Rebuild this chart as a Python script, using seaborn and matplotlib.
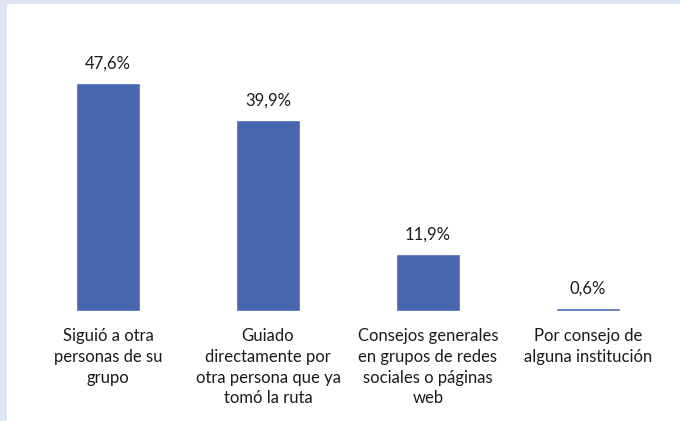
import matplotlib
matplotlib.use('Agg')
import matplotlib.pyplot as plt
import seaborn as sns
import pandas as pd
from matplotlib.patches import Rectangle

categorias = [
    'Siguió a otra\npersonas de su\ngrupo',
    'Guiado\ndirectamente por\notra persona que ya\ntomó la ruta',
    'Consejos generales\nen grupos de redes\nsociales o páginas\nweb',
    'Por consejo de\nalguna institución',
]
porcentajes = [47.6, 39.9, 11.9, 0.6]
etiquetas = ['47,6%', '39,9%', '11,9%', '0,6%']

sns.set_theme(style='white')
plt.rcParams['font.family'] = ['Lato', 'DejaVu Sans']

df = pd.DataFrame({'categoria': categorias, 'valor': porcentajes})

fig = plt.figure(figsize=(6.8, 4.21), dpi=100)
# marco azul claro (arriba e izquierda)
fig.patches.append(Rectangle((0, 1 - 4 / 421), 1, 4 / 421, transform=fig.transFigure,
                             facecolor='#dde5f2', edgecolor='none', zorder=0))
fig.patches.append(Rectangle((0, 0), 7 / 680, 1, transform=fig.transFigure,
                             facecolor='#dde5f2', edgecolor='none', zorder=0))

ax = fig.add_axes([28 / 680, 110 / 421, 640 / 680, 239.5 / 421])
sns.barplot(data=df, x='categoria', y='valor', color='#4667b0', saturation=1,
            width=0.395, ax=ax)
ax.set_xlim(-0.5, 3.5)
ax.set_ylim(0, 50)
ax.set_xlabel('')
ax.set_ylabel('')
ax.set_yticks([])
for s in ax.spines.values():
    s.set_visible(False)
ax.tick_params(axis='x', length=0, pad=12, labelsize=12, labelcolor='#1a1a1a')
for lbl in ax.get_xticklabels():
    lbl.set_verticalalignment('top')
    lbl.set_linespacing(1.38)

for i, (v, t) in enumerate(zip(porcentajes, etiquetas)):
    ax.annotate(t, (i, v), xytext=(0, 8), textcoords='offset points',
                ha='center', va='bottom', fontsize=12, color='#1a1a1a')

fig.savefig('out.png', dpi=100)
